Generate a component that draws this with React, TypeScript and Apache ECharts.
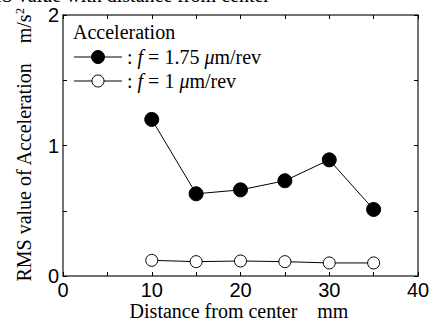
import React, { useEffect, useRef } from "react";
import * as echarts from "echarts";

const distances = [10, 15, 20, 25, 30, 35];
const accelHigh = [1.2, 0.63, 0.66, 0.73, 0.89, 0.51];
const accelLow = [0.12, 0.11, 0.115, 0.11, 0.1, 0.1];
const xTicks = [0, 10, 20, 30, 40];
const yTicks = [0, 1, 2];

const SERIF = "'Liberation Serif', 'Times New Roman', serif";
const SANS = "'Liberation Sans', Arial, sans-serif";

export default function App() {
  const ref = useRef<HTMLDivElement>(null);
  useEffect(() => {
    if (!ref.current) return;
    const chart = echarts.init(ref.current, undefined, { renderer: "svg" });
    const axisColor = "#444";
    const baseAxis = {
      axisLine: { show: true, onZero: false, lineStyle: { color: axisColor, width: 1.5 } },
      axisTick: { show: true, inside: true, length: 4, lineStyle: { color: "#000", width: 1 } },
      minorTick: { show: true, splitNumber: 2, length: 4, lineStyle: { color: "#000", width: 1 } },
      splitLine: { show: false },
    };
    const option: any = {
      animation: false,
      backgroundColor: "#fff",
      grid: { left: 63, right: 22, top: 15, bottom: 46, containLabel: false },
      xAxis: [
        {
          ...baseAxis,
          type: "value",
          min: xTicks[0],
          max: xTicks[xTicks.length - 1],
          interval: 10,
          position: "bottom",
          axisLabel: { color: "#000", fontFamily: SANS, fontSize: 20, margin: 4 },
        },
        {
          ...baseAxis,
          type: "value",
          min: xTicks[0],
          max: xTicks[xTicks.length - 1],
          interval: 10,
          position: "top",
          axisLabel: { show: false },
        },
      ],
      yAxis: [
        {
          ...baseAxis,
          type: "value",
          min: yTicks[0],
          max: yTicks[yTicks.length - 1],
          interval: 1,
          position: "left",
          axisLabel: { color: "#000", fontFamily: SANS, fontSize: 20, margin: 4 },
        },
        {
          ...baseAxis,
          type: "value",
          min: yTicks[0],
          max: yTicks[yTicks.length - 1],
          interval: 1,
          position: "right",
          axisLabel: { show: false },
        },
      ],
      series: [
        {
          type: "line",
          data: distances.map((d, i) => [d, accelHigh[i]]),
          symbol: "circle",
          symbolSize: 14,
          itemStyle: { color: "#000", borderColor: "#000", borderWidth: 1 },
          lineStyle: { color: "#000", width: 1 },
        },
        {
          type: "line",
          data: distances.map((d, i) => [d, accelLow[i]]),
          symbol: "circle",
          symbolSize: 12,
          itemStyle: { color: "#fff", borderColor: "#000", borderWidth: 1 },
          lineStyle: { color: "#000", width: 1 },
        },
      ],
      graphic: [
        {
          type: "text",
          x: 270,
          y: -5,
          style: {
            text: "Variation of RMS value with distance from center",
            font: `20px ${SERIF}`,
            fill: "#000",
            align: "right",
            verticalAlign: "middle",
          },
        },
        {
          type: "text",
          x: 24,
          y: 145,
          rotation: Math.PI / 2,
          style: {
            text: "RMS value of Acceleration    m/s{sup|2}",
            font: `20px ${SERIF}`,
            fill: "#000",
            align: "center",
            verticalAlign: "middle",
            rich: {
              sup: { fontSize: 12, fontFamily: SERIF, verticalAlign: "top", padding: [0, 0, 9, 0] },
            },
          },
        },
        {
          type: "text",
          x: 239,
          y: 311,
          style: {
            text: "Distance from center    mm",
            font: `20px ${SERIF}`,
            fill: "#000",
            align: "center",
            verticalAlign: "middle",
          },
        },
        {
          type: "text",
          x: 73,
          y: 32,
          style: {
            text: "Acceleration",
            font: `20px ${SERIF}`,
            fill: "#000",
            verticalAlign: "middle",
          },
        },
        { type: "line", shape: { x1: 74, y1: 57, x2: 122, y2: 57 }, style: { stroke: "#000", lineWidth: 1 } },
        { type: "circle", shape: { cx: 98, cy: 57, r: 6.5 }, style: { fill: "#000", stroke: "#000" } },
        { type: "line", shape: { x1: 74, y1: 81, x2: 122, y2: 81 }, style: { stroke: "#000", lineWidth: 1 } },
        { type: "circle", shape: { cx: 98, cy: 81, r: 6 }, style: { fill: "#fff", stroke: "#000", lineWidth: 1 } },
        {
          type: "text",
          x: 127,
          y: 57,
          style: {
            text: ": {i|f} = 1.75 {i|μ}m/rev",
            font: `20px ${SERIF}`,
            fill: "#000",
            verticalAlign: "middle",
            rich: { i: { fontStyle: "italic", fontFamily: SERIF, fontSize: 20 } },
          },
        },
        {
          type: "text",
          x: 127,
          y: 81,
          style: {
            text: ": {i|f} = 1 {i|μ}m/rev",
            font: `20px ${SERIF}`,
            fill: "#000",
            verticalAlign: "middle",
            rich: { i: { fontStyle: "italic", fontFamily: SERIF, fontSize: 20 } },
          },
        },
      ],
    };
    chart.setOption(option);
    return () => chart.dispose();
  }, []);
  return <div ref={ref} style={{ width: 440, height: 322, position: "absolute", left: 0, top: 0 }} />;
}
